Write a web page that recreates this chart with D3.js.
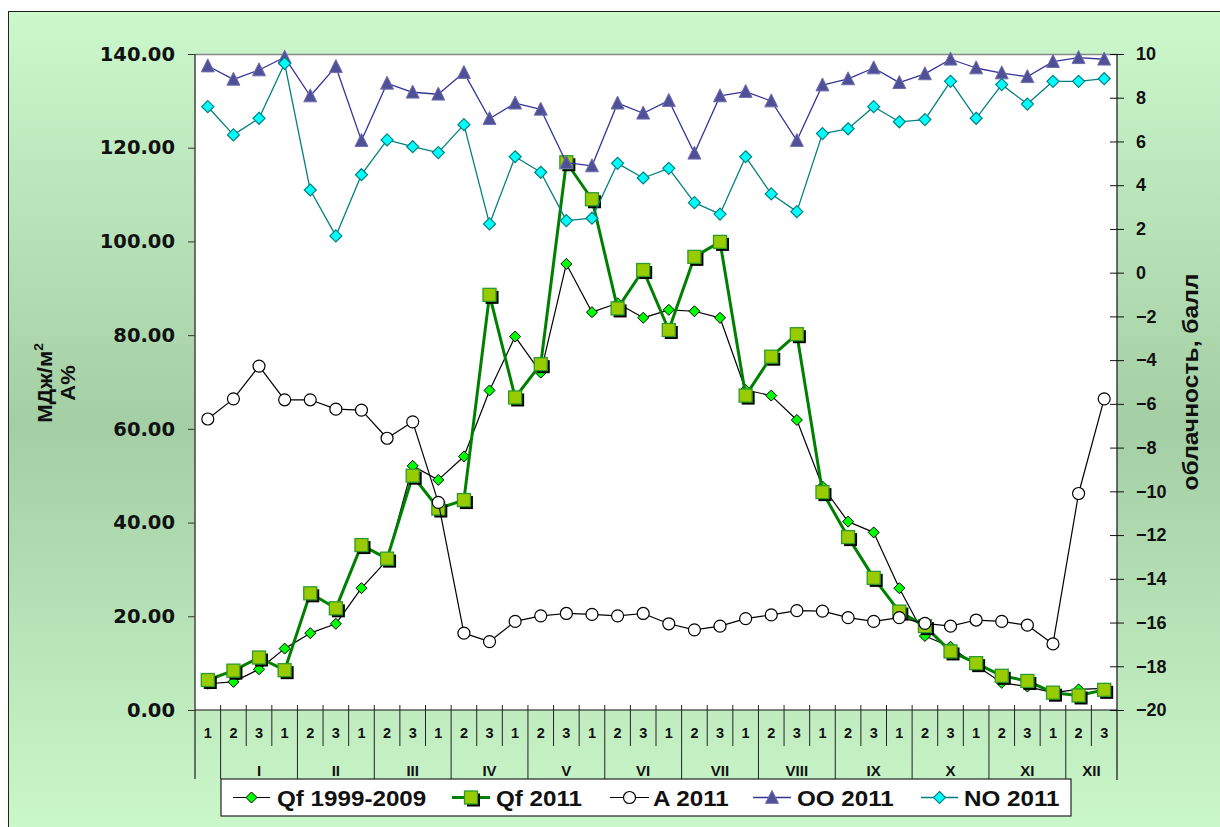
<!DOCTYPE html>
<html><head><meta charset="utf-8">
<script src="https://cdn.jsdelivr.net/npm/d3@7"></script>
<style>body{margin:0;background:#fff}svg{display:block}</style>
</head><body>
<svg id="c" width="1220" height="827"></svg>
<script>
// ---- data ----
const decadeLabels = ["1","2","3","1","2","3","1","2","3","1","2","3","1","2","3","1","2","3","1","2","3","1","2","3","1","2","3","1","2","3","1","2","3","1","2","3"];
const monthLabels = ["I","II","III","IV","V","VI","VII","VIII","IX","X","XI","XII"];
const qf9909 = [5.6,6.0,8.7,13.1,16.4,18.4,26.0,32.0,52.1,49.1,54.1,68.2,79.7,72.0,95.2,84.9,86.8,83.7,85.4,85.1,83.7,68.3,67.1,61.9,47.7,40.2,37.9,26.0,15.8,13.5,9.5,5.8,5.0,3.7,4.4,4.6];
const qf2011 = [6.4,8.4,11.2,8.5,24.9,21.7,35.2,32.3,50.0,43.0,44.8,88.6,66.7,73.8,116.9,109.0,85.7,93.9,81.1,96.7,99.9,67.1,75.4,80.2,46.5,36.9,28.2,21.0,17.9,12.5,10.0,7.3,6.2,3.7,3.1,4.3];
const a2011 = [62.1,66.4,73.4,66.2,66.2,64.2,64.0,58.0,61.5,44.3,16.4,14.6,18.9,20.1,20.6,20.4,20.1,20.6,18.4,17.1,17.9,19.5,20.3,21.2,21.1,19.7,18.9,19.7,18.5,17.9,19.2,18.9,18.1,14.1,46.2,66.4];
const oo2011 = [9.45,8.84,9.27,9.85,8.08,9.42,6.04,8.66,8.25,8.16,9.15,7.04,7.75,7.47,5.03,4.88,7.75,7.29,7.87,5.46,8.08,8.28,7.85,6.04,8.58,8.86,9.36,8.69,9.09,9.76,9.36,9.13,8.96,9.65,9.83,9.76];
const no2011 = [7.59,6.30,7.06,9.57,3.78,1.68,4.48,6.07,5.76,5.49,6.77,2.23,5.30,4.59,2.38,2.49,5.00,4.33,4.77,3.20,2.68,5.30,3.60,2.79,6.36,6.58,7.59,6.90,7.00,8.75,7.06,8.60,7.71,8.75,8.75,8.87];
const leftTicks = [0,20,40,60,80,100,120,140];
const rightTicks = [-20,-18,-16,-14,-12,-10,-8,-6,-4,-2,0,2,4,6,8,10];
const seriesNames = ["Qf 1999-2009","Qf 2011","A 2011","OO 2011","NO 2011"];

// ---- layout ----
const svg = d3.select("#c");
const L = 195, R = 1117, T = 54, B = 710;
const defs = svg.append("defs");
const g = defs.append("linearGradient").attr("id","bg").attr("x1",0).attr("y1",0).attr("x2",0).attr("y2",1);
g.append("stop").attr("offset","0%").attr("stop-color","#ccf8cc");
g.append("stop").attr("offset","50%").attr("stop-color","#a4cea4");
g.append("stop").attr("offset","100%").attr("stop-color","#ccf9cc");
svg.append("rect").attr("x",8.5).attr("y",11.5).attr("width",1220).attr("height",830)
  .attr("fill","url(#bg)").attr("stroke","#222").attr("stroke-width",1);

const x = d3.scaleBand().domain(d3.range(36)).range([L,R]);
const cx = i => x(i) + x.bandwidth()/2;
const yL = d3.scaleLinear().domain([0,140]).range([B,T]);
const yR = d3.scaleLinear().domain([-20,10]).range([B,T]);

// plot area
svg.append("rect").attr("x",L).attr("y",T).attr("width",R-L).attr("height",B-T).attr("fill","#fff");
svg.append("line").attr("x1",L).attr("x2",R).attr("y1",T+0.5).attr("y2",T+0.5).attr("stroke","#888").attr("stroke-width",1.5);

// left axis
const ax = svg.append("g").attr("transform",`translate(${L},0)`)
  .call(d3.axisLeft(yL).tickValues(leftTicks).tickFormat(d3.format(".2f")).tickSize(7).tickPadding(13));
ax.select(".domain").remove();
ax.selectAll("line").attr("stroke","#333");
ax.selectAll("text").attr("font-family","DejaVu Sans").attr("font-weight","bold").attr("font-size","19.5px").attr("fill","#111");
svg.append("line").attr("x1",L).attr("x2",L).attr("y1",T).attr("y2",779).attr("stroke","#444").attr("stroke-width",1.5);

// right axis
const ar = svg.append("g").attr("transform",`translate(${R},0)`)
  .call(d3.axisRight(yR).tickValues(rightTicks).tickSize(7).tickPadding(12));
ar.select(".domain").remove();
ar.selectAll(".tick line").attr("x1",-7).attr("stroke","#111");
ar.selectAll("text").attr("font-family","Liberation Sans").attr("font-weight","bold").attr("font-size","18px").attr("fill","#111");
svg.append("line").attr("x1",R).attr("x2",R).attr("y1",T).attr("y2",780).attr("stroke","#111").attr("stroke-width",1.2);

// category axis
svg.append("line").attr("x1",L).attr("x2",R).attr("y1",B).attr("y2",B).attr("stroke","#111").attr("stroke-width",1.2);
const cat = svg.append("g");
d3.range(1,36).forEach(i => {
  const isMonth = (i - 1) % 3 === 0;
  cat.append("line").attr("x1",x(i)).attr("x2",x(i)).attr("y1",705).attr("y2",isMonth?779:746)
    .attr("stroke","#222").attr("stroke-width",1);
});
cat.selectAll("text.dec").data(decadeLabels).join("text").attr("class","dec")
  .attr("x",(d,i)=>cx(i)).attr("y",733).attr("text-anchor","middle").attr("dominant-baseline","central")
  .attr("font-family","Liberation Sans").attr("font-weight","bold").attr("font-size","14.5px").attr("fill","#111")
  .text(d=>d);
cat.selectAll("text.mon").data(monthLabels).join("text").attr("class","mon")
  .attr("x",(d,m)=>{const s=1+3*m, e=Math.min(s+2,35); return (x(s)+x(e)+x.bandwidth())/2;})
  .attr("y",770).attr("text-anchor","middle").attr("dominant-baseline","central")
  .attr("font-family","Liberation Sans").attr("font-weight","bold").attr("font-size","15px").attr("fill","#111")
  .text(d=>d);

// axis titles
const lt = svg.append("text").attr("transform","translate(52,383) rotate(-90) scale(1.05,1)").attr("text-anchor","middle")
  .attr("font-family","Liberation Sans").attr("font-weight","bold").attr("font-size","21px").attr("fill","#111");
lt.append("tspan").text("МДж/м");
lt.append("tspan").attr("font-size","13px").attr("dy","-9").text("2");
svg.append("text").attr("transform","translate(75,383) rotate(-90) scale(1.05,1)").attr("text-anchor","middle")
  .attr("font-family","Liberation Sans").attr("font-weight","bold").attr("font-size","21px").attr("fill","#111").text("А%");
svg.append("text").attr("transform","translate(1198,382) rotate(-90) scale(1.12,1)").attr("text-anchor","middle")
  .attr("font-family","Liberation Sans").attr("font-weight","bold").attr("font-size","22px").attr("fill","#111").text("облачность, балл");

// marker helpers
const diamond = r => `M0,${-r}L${r},0L0,${r}L${-r},0Z`;
const tri = s => `M0,${-s*0.55}L${s/2},${s*0.45}L${-s/2},${s*0.45}Z`;
function drawMarker(sel, type){
  if(type===0) sel.append("path").attr("d",diamond(5.5)).attr("fill","#00ff00").attr("stroke","#000").attr("stroke-width",1);
  if(type===1){
    sel.append("rect").attr("x",-4).attr("y",-4).attr("width",13).attr("height",13).attr("fill","#000");
    sel.append("rect").attr("x",-6.5).attr("y",-6.5).attr("width",13).attr("height",13).attr("fill","#99cc00").attr("stroke","#2e9a2e").attr("stroke-width",1.3);
  }
  if(type===2) sel.append("circle").attr("r",6).attr("fill","#fff").attr("stroke","#000").attr("stroke-width",1.2);
  if(type===3) sel.append("path").attr("d",tri(13)).attr("fill","#505098").attr("stroke","#7070b0").attr("stroke-width",1);
  if(type===4) sel.append("path").attr("d",diamond(6)).attr("fill","#00ffff").attr("stroke","#008080").attr("stroke-width",1.2);
}
const series = [
  {vals:qf9909, y:yL, color:"#000", w:1.2},
  {vals:qf2011, y:yL, color:"#008000", w:3},
  {vals:a2011, y:yL, color:"#000", w:1.2},
  {vals:oo2011, y:yR, color:"#333399", w:1.3},
  {vals:no2011, y:yR, color:"#008080", w:1.3}
];
series.forEach((s,k)=>{
  const line = d3.line().x((d,i)=>cx(i)).y(d=>s.y(d));
  svg.append("path").attr("d",line(s.vals)).attr("fill","none").attr("stroke",s.color).attr("stroke-width",s.w).attr("stroke-linejoin","round");
  s.vals.forEach((v,i)=>{ drawMarker(svg.append("g").attr("transform",`translate(${cx(i)},${s.y(v)})`), k); });
});

// legend
svg.append("rect").attr("x",221).attr("y",779).attr("width",850).attr("height",37).attr("fill","#fff").attr("stroke","#222").attr("stroke-width",1.2);
const legX = [[233,270,277],[452,490,496],[610,649,653],[753,791,797],[921,958,964]];
seriesNames.forEach((n,k)=>{
  const [a,b,t] = legX[k];
  svg.append("line").attr("x1",a).attr("x2",b).attr("y1",797.5).attr("y2",797.5).attr("stroke",series[k].color).attr("stroke-width",series[k].w);
  drawMarker(svg.append("g").attr("transform",`translate(${(a+b)/2},797.5)`), k);
  svg.append("text").attr("transform",`translate(${t},798) scale(1.1,1)`).attr("dominant-baseline","central")
    .attr("font-family","Liberation Sans").attr("font-weight","bold").attr("font-size","22px").attr("fill","#111").text(n);
});
</script>
</body></html>
